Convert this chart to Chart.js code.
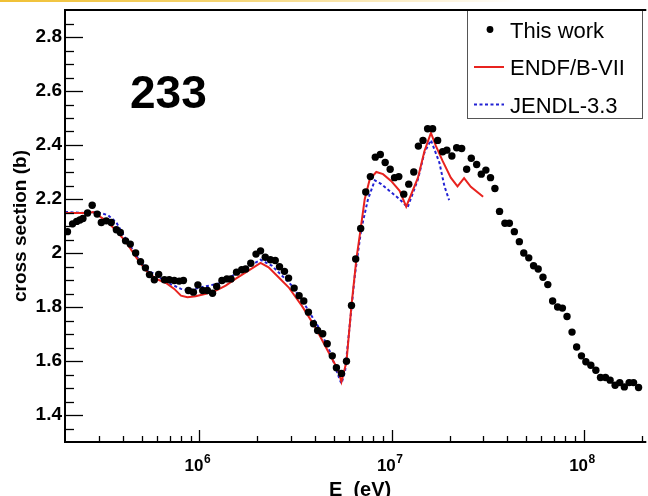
<!DOCTYPE html>
<html>
<head>
<meta charset="utf-8">
<script src="https://cdn.jsdelivr.net/npm/chart.js@4/dist/chart.umd.min.js"></script>
<style>
html,body{margin:0;padding:0;background:#fff;overflow:hidden;}
#wrap{position:relative;width:648px;height:496px;overflow:hidden;}
#bar{position:absolute;left:0;top:0;width:648px;height:2px;background:linear-gradient(to right,#f0c034 0%,#f5d573 35%,#fbecc2 60%,#ffffff 80%);}
canvas{position:absolute;left:0;top:0;}
</style>
</head>
<body>
<div id="wrap"><canvas id="c" width="648" height="496"></canvas><div id="bar"></div></div>
<script>
// ---- data (E in eV, cross section in barns) ----
const workEnergy = [2.06e5, 2.19e5, 2.30e5, 2.39e5, 2.48e5, 2.62e5, 2.77e5, 2.94e5, 3.09e5, 3.28e5,
  3.48e5, 3.70e5, 3.88e5, 4.13e5, 4.37e5, 4.66e5, 4.94e5, 5.24e5, 5.50e5, 5.83e5,
  6.14e5, 6.58e5, 6.97e5, 7.40e5, 7.85e5, 8.26e5, 8.77e5, 9.31e5, 9.82e5, 1.04e6,
  1.10e6, 1.17e6, 1.23e6, 1.31e6, 1.39e6, 1.46e6, 1.56e6, 1.66e6, 1.74e6, 1.85e6,
  1.97e6, 2.08e6, 2.20e6, 2.34e6, 2.48e6, 2.61e6, 2.77e6, 2.91e6, 3.11e6, 3.30e6,
  3.49e6, 3.69e6, 3.92e6, 4.12e6, 4.38e6, 4.62e6, 4.91e6, 5.16e6, 5.48e6, 5.82e6,
  6.18e6, 6.50e6, 6.90e6, 7.33e6, 7.75e6, 8.22e6, 8.73e6, 9.25e6, 9.82e6, 1.035e7,
  1.089e7, 1.156e7, 1.227e7, 1.303e7, 1.377e7, 1.455e7, 1.538e7, 1.633e7, 1.734e7, 1.841e7,
  1.936e7, 2.056e7, 2.178e7, 2.312e7, 2.455e7, 2.594e7, 2.767e7, 2.924e7, 3.090e7, 3.266e7,
  3.443e7, 3.639e7, 3.882e7, 4.093e7, 4.345e7, 4.613e7, 4.864e7, 5.164e7, 5.470e7, 5.781e7,
  6.124e7, 6.486e7, 6.871e7, 7.295e7, 7.727e7, 8.166e7, 8.670e7, 9.162e7, 9.705e7, 1.023e8,
  1.086e8, 1.153e8, 1.219e8, 1.294e8, 1.368e8, 1.452e8, 1.535e8, 1.622e8, 1.718e8, 1.811e8, 1.923e8];
const workXS = [2.079, 2.108, 2.117, 2.122, 2.128, 2.148, 2.177, 2.144, 2.113, 2.119,
  2.113, 2.086, 2.076, 2.045, 2.033, 2.000, 1.968, 1.945, 1.920, 1.901,
  1.921, 1.901, 1.901, 1.898, 1.896, 1.898, 1.861, 1.855, 1.882, 1.861,
  1.861, 1.851, 1.876, 1.898, 1.904, 1.904, 1.929, 1.938, 1.941, 1.962,
  1.996, 2.008, 1.984, 1.975, 1.972, 1.949, 1.932, 1.907, 1.870, 1.842,
  1.822, 1.781, 1.738, 1.713, 1.701, 1.664, 1.619, 1.575, 1.554, 1.599,
  1.806, 1.978, 2.091, 2.226, 2.283, 2.355, 2.365, 2.335, 2.310, 2.279,
  2.283, 2.218, 2.255, 2.300, 2.396, 2.417, 2.460, 2.460, 2.417, 2.375,
  2.381, 2.359, 2.390, 2.387, 2.310, 2.351, 2.328, 2.292, 2.307, 2.279,
  2.239, 2.154, 2.110, 2.110, 2.079, 2.042, 2.000, 1.982, 1.953, 1.941,
  1.910, 1.883, 1.822, 1.800, 1.796, 1.765, 1.707, 1.652, 1.619, 1.597,
  1.584, 1.566, 1.539, 1.539, 1.529, 1.510, 1.520, 1.504, 1.520, 1.520, 1.502];

const endfEnergy = [2.0e5, 2.64e5, 2.80e5, 3.28e5, 3.70e5, 4.17e5, 4.69e5, 5.28e5, 5.96e5, 6.70e5,
  7.40e5, 8.02e5, 8.67e5, 9.57e5, 1.08e6, 1.22e6, 1.37e6, 1.54e6, 1.80e6, 2.08e6,
  2.29e6, 2.58e6, 2.91e6, 3.40e6, 4.00e6, 4.68e6, 5.27e6, 5.48e6, 5.82e6, 6.18e6,
  6.56e6, 6.82e6, 7.24e6, 7.69e6, 8.32e6, 9.02e6, 9.93e6, 1.10e7, 1.19e7, 1.37e7,
  1.48e7, 1.60e7, 1.70e7, 1.84e7, 2.03e7, 2.20e7, 2.38e7, 2.58e7, 2.99e7];
const endfXS = [2.148, 2.148, 2.152, 2.119, 2.082, 2.039, 1.984, 1.935, 1.904, 1.889,
  1.867, 1.842, 1.836, 1.840, 1.849, 1.861, 1.879, 1.904, 1.935, 1.963,
  1.947, 1.910, 1.873, 1.806, 1.726, 1.634, 1.566, 1.523, 1.597, 1.806,
  1.980, 2.064, 2.199, 2.273, 2.300, 2.292, 2.267, 2.230, 2.172, 2.279,
  2.377, 2.445, 2.396, 2.341, 2.279, 2.247, 2.277, 2.245, 2.208];

const jendlEnergy = [2.0e5, 2.59e5, 2.92e5, 3.35e5, 3.70e5, 4.00e5, 4.42e5, 4.88e5, 5.38e5, 5.96e5,
  6.70e5, 7.40e5, 8.02e5, 8.85e5, 9.95e5, 1.12e6, 1.27e6, 1.42e6, 1.60e6, 2.08e6,
  2.38e6, 2.69e6, 3.03e6, 3.55e6, 4.16e6, 4.78e6, 5.38e6, 5.48e6, 5.72e6, 6.05e6,
  6.43e6, 6.95e6, 7.53e6, 8.17e6, 8.83e6, 9.75e6, 1.10e7, 1.21e7, 1.37e7, 1.48e7,
  1.60e7, 1.77e7, 1.88e7, 1.99e7];
const jendlXS = [2.152, 2.148, 2.152, 2.140, 2.113, 2.070, 2.021, 1.972, 1.935, 1.919,
  1.892, 1.879, 1.867, 1.861, 1.871, 1.879, 1.888, 1.907, 1.929, 1.975,
  1.953, 1.916, 1.879, 1.806, 1.726, 1.634, 1.529, 1.517, 1.560, 1.732,
  1.916, 2.089, 2.199, 2.269, 2.255, 2.230, 2.199, 2.169, 2.273, 2.372,
  2.418, 2.335, 2.248, 2.196];

const seriesLabels = ['This work', 'ENDF/B-VII', 'JENDL-3.3'];
const yMajorTicks = [1.4, 1.6, 1.8, 2.0, 2.2, 2.4, 2.6, 2.8];
const xMajorTicks = [1e6, 1e7, 1e8];
const xTickLabelBase = '10';
const xTickLabelExp = ['6', '7', '8'];
const yAxisTitle = 'cross section (b)';
const xAxisTitle = 'E  (eV)';
const panelLabel = '233';

// ---- build ----
const toPts = (xs, ys) => xs.map((x, i) => ({x: x, y: ys[i]}));
const FONT = '"Liberation Sans", Arial, Helvetica, sans-serif';

const rootStyle = {
  id: 'rootStyle',
  afterDraw(chart) {
    const ctx = chart.ctx;
    const a = chart.chartArea;
    const xs = chart.scales.x, ys = chart.scales.y;
    ctx.save();
    ctx.strokeStyle = '#000';
    ctx.fillStyle = '#000';
    // y ticks (inward)
    ctx.lineWidth = 1.3;
    ys.ticks.forEach(t => {
      const p = Math.round(ys.getPixelForValue(t.value)) + 0.5;
      if (p < a.top + 1 || p > a.bottom - 1) return;
      const major = yMajorTicks.some(m => Math.abs(m - t.value) < 1e-6);
      const len = major ? 18 : 9;
      ctx.beginPath(); ctx.moveTo(a.left, p); ctx.lineTo(a.left + len, p); ctx.stroke();
    });
    // x ticks (inward, log)
    xs.ticks.forEach(t => {
      const v = t.value;
      const e = Math.floor(Math.log10(v) + 1e-9);
      const m = v / Math.pow(10, e);
      if (Math.abs(m - Math.round(m)) > 1e-6) return;
      const p = Math.round(xs.getPixelForValue(v)) + 0.5;
      if (p < a.left + 1 || p > a.right - 1) return;
      const major = Math.round(m) === 1;
      const len = major ? 12 : 6;
      ctx.beginPath(); ctx.moveTo(p, a.bottom); ctx.lineTo(p, a.bottom - len); ctx.stroke();
    });
    // x tick labels 10^n
    xMajorTicks.forEach((v, i) => {
      const p = xs.getPixelForValue(v);
      ctx.font = 'bold 17px ' + FONT;
      const wb = ctx.measureText(xTickLabelBase).width;
      ctx.font = 'bold 12px ' + FONT;
      const we = ctx.measureText(xTickLabelExp[i]).width;
      const x0 = p - 2 - (wb + we) / 2;
      ctx.textAlign = 'left'; ctx.textBaseline = 'alphabetic';
      ctx.font = 'bold 17px ' + FONT;
      ctx.fillText(xTickLabelBase, x0, 471);
      ctx.font = 'bold 12px ' + FONT;
      ctx.fillText(xTickLabelExp[i], x0 + wb + 0.5, 463);
    });
    // axis titles
    ctx.font = 'bold 20px ' + FONT;
    ctx.textAlign = 'left'; ctx.textBaseline = 'alphabetic';
    ctx.fillText(xAxisTitle, 329, 495.5);
    ctx.save();
    ctx.textAlign = 'center';
    ctx.translate(26, (a.top + a.bottom) / 2);
    ctx.rotate(-Math.PI / 2);
    ctx.font = 'bold 19px ' + FONT;
    ctx.fillText(yAxisTitle, 0, 0);
    ctx.restore();
    // panel label
    ctx.font = 'bold 46px ' + FONT;
    ctx.textAlign = 'left';
    ctx.fillText(panelLabel, 130, 108);
    // legend
    const ds = chart.data.datasets;
    const lx = 467.5, ly = a.top + 0.5, lw = 175, lh = 108;
    ctx.fillStyle = '#fff';
    ctx.fillRect(lx, ly, lw, lh);
    ctx.strokeStyle = '#555'; ctx.lineWidth = 1;
    ctx.strokeRect(lx, ly, lw, lh);
    ctx.fillStyle = '#000';
    ctx.font = '22px ' + FONT;
    const rows = [37.5, 75, 112.5];
    ds.forEach((d, i) => {
      const base = rows[i];
      const mid = base - 8;
      if (i === 0) {
        ctx.beginPath(); ctx.arc(490, mid, 3.4, 0, Math.PI * 2); ctx.fillStyle = '#000'; ctx.fill();
      } else {
        ctx.save();
        ctx.strokeStyle = d.borderColor; ctx.lineWidth = d.borderWidth;
        ctx.setLineDash(d.borderDash || []);
        ctx.beginPath(); ctx.moveTo(474, mid); ctx.lineTo(504, mid); ctx.stroke();
        ctx.restore();
      }
      ctx.fillStyle = '#000';
      ctx.fillText(d.label, 510, base);
    });
    // frame
    ctx.strokeStyle = '#000'; ctx.lineWidth = 2;
    ctx.beginPath();
    ctx.moveTo(a.right + 2, a.top); ctx.lineTo(a.left, a.top);
    ctx.lineTo(a.left, a.bottom); ctx.lineTo(a.right + 2, a.bottom);
    ctx.stroke();
    ctx.restore();
  }
};

new Chart(document.getElementById('c'), {
  type: 'scatter',
  data: {
    datasets: [
      {label: seriesLabels[0], data: toPts(workEnergy, workXS), showLine: false,
       pointRadius: 3.7, pointHoverRadius: 3.7, pointBackgroundColor: '#000', pointBorderColor: '#000',
       pointBorderWidth: 0, borderColor: '#000', backgroundColor: '#000'},
      {label: seriesLabels[1], data: toPts(endfEnergy, endfXS), showLine: true,
       borderColor: '#e8231f', backgroundColor: '#e8231f', borderWidth: 2, pointRadius: 0, tension: 0, fill: false},
      {label: seriesLabels[2], data: toPts(jendlEnergy, jendlXS), showLine: true,
       borderColor: '#2222d4', backgroundColor: '#2222d4', borderWidth: 2, borderDash: [3, 2.5], pointRadius: 0, tension: 0, fill: false}
    ]
  },
  options: {
    responsive: false,
    animation: false,
    devicePixelRatio: 1,
    layout: {padding: {top: 10, left: 0, right: 0, bottom: 0}},
    plugins: {legend: {display: false}, tooltip: {enabled: false}},
    events: [],
    scales: {
      x: {
        type: 'logarithmic', position: 'bottom', min: 2e5, max: 2.06e8,
        grid: {display: false, drawTicks: false}, border: {display: false},
        ticks: {display: false, autoSkip: false},
        afterFit: s => { s.height = 54; s.paddingLeft = 0; s.paddingRight = 0; }
      },
      y: {
        type: 'linear', position: 'left', min: 1.3, max: 2.9,
        grid: {display: false, drawTicks: false}, border: {display: false},
        ticks: {
          stepSize: 0.05, autoSkip: false, maxTicksLimit: 100, padding: 3, color: '#000',
          font: {family: FONT, size: 19, weight: 'bold', lineHeight: 1},
          callback: v => yMajorTicks.some(m => Math.abs(m - v) < 1e-6) ? String(+(+v).toFixed(1)) : ''
        },
        afterFit: s => { s.width = 65; s.paddingTop = 0; s.paddingBottom = 0; }
      }
    }
  },
  plugins: [rootStyle]
});
</script>
</body>
</html>
